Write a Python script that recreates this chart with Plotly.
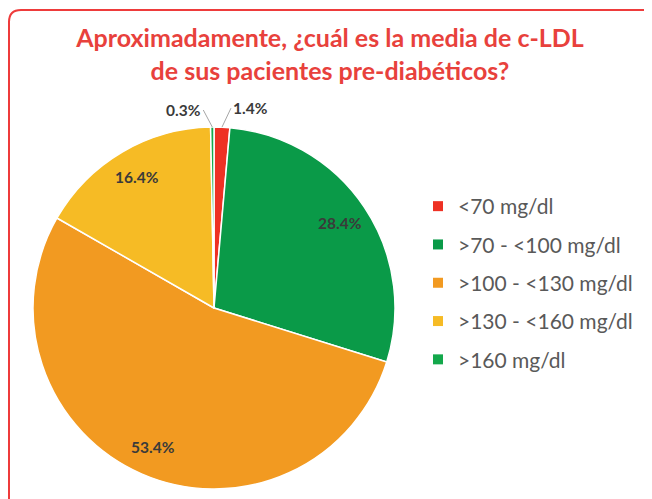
import math
import plotly.graph_objects as go

labels = ["<70 mg/dl", ">70 - <100 mg/dl", ">100 - <130 mg/dl", ">130 - <160 mg/dl", ">160 mg/dl"]
values = [1.4, 28.4, 53.4, 16.4, 0.3]
colors = ["#EE3124", "#0A9A48", "#F29A21", "#F6BB25", "#13A84B"]
label_inside = [False, True, True, True, False]
outside_offsets = [(9, -19), None, None, None, (-9, -17)]  # pixel offsets of outside labels

W, H = 652, 499
# pie geometry (pixels, figure coords)
CX, CY, R = 206, 300, 181

fig = go.Figure()
fig.add_trace(go.Pie(
    labels=labels,
    values=values,
    sort=False,
    direction="clockwise",
    rotation=0,
    marker=dict(colors=colors, line=dict(color="white", width=1.5)),
    textinfo="none",
    showlegend=False,
    domain=dict(x=[(CX - R) / W, (CX + R) / W], y=[1 - (CY + R) / H, 1 - (CY - R) / H]),
    hoverinfo="label+percent",
))

# legend entries (one group per category so rows can be spaced)
for lab, col in zip(labels, colors):
    fig.add_trace(go.Scatter(
        x=[None], y=[None], mode="markers", name=lab, legendgroup=lab,
        marker=dict(symbol="square", size=10, color=col),
        hoverinfo="skip",
    ))

# data labels placed from the slice angles
total = sum(values)
cum = 0.0
lab_font = dict(family="Lato", size=15.5, color="#3A3A3A", weight="bold")
for v, inside, off in zip(values, label_inside, outside_offsets):
    mid = (cum + v / 2) / total * 2 * math.pi
    cum += v
    txt = f"{v:.1f}%"
    if inside:
        k = 0.84
        fig.add_annotation(
            x=(CX + k * R * math.sin(mid)) / W, y=1 - (CY - k * R * math.cos(mid)) / H,
            xref="paper", yref="paper", text=txt, showarrow=False, font=lab_font,
            xanchor="center", yanchor="middle",
        )
    else:
        fig.add_annotation(
            x=(CX + R * math.sin(mid)) / W, y=1 - (CY - R * math.cos(mid)) / H,
            xref="paper", yref="paper", text=txt, showarrow=True,
            arrowhead=0, arrowwidth=1, arrowcolor="#A6A6A6",
            ax=off[0], ay=off[1], standoff=0, startstandoff=0,
            xanchor="left" if off[0] > 0 else "right", yanchor="middle",
            font=lab_font,
        )

# rounded border (top-left corner visible, others cut off)
x0, y0, r = 1 / W, 1 - 2 / H, 12
rx, ry = r / W, r / H
path = f"M {x0} -0.05 L {x0} {y0 - ry} Q {x0} {y0} {x0 + rx} {y0} L 1.05 {y0}"
fig.add_shape(type="path", path=path, xref="paper", yref="paper",
              line=dict(color="#EE3B3B", width=2))

fig.update_layout(
    width=W, height=H,
    margin=dict(l=0, r=0, t=0, b=0),
    paper_bgcolor="white",
    plot_bgcolor="white",
    xaxis=dict(visible=False),
    yaxis=dict(visible=False),
    title=dict(
        text="Aproximadamente, ¿cuál es la media de c-LDL<br>de sus pacientes pre-diabéticos?",
        x=322 / W, xanchor="center", y=1 - 39 / H, yanchor="middle",
        font=dict(family="Lato", size=25, color="#E8413C", weight="bold"),
    ),
    legend=dict(
        x=410 / W, y=1 - 178 / H, xanchor="left", yanchor="top",
        font=dict(family="Lato", size=21, color="#595959"),
        tracegroupgap=8,
        bgcolor="rgba(0,0,0,0)",
    ),
)

fig.write_html("out.html")
